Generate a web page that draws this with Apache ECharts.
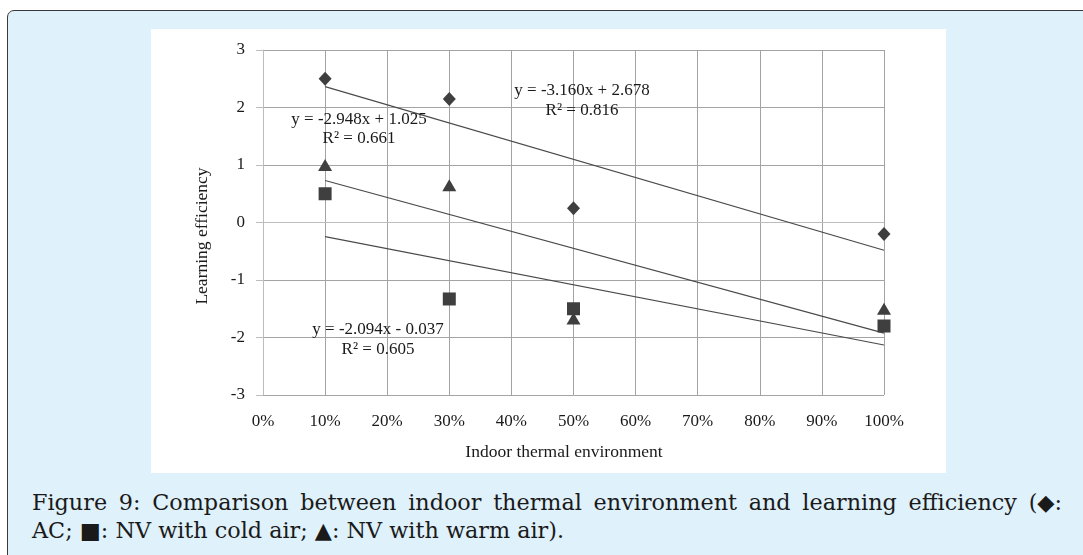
<!DOCTYPE html>
<html>
<head>
<meta charset="utf-8">
<script src="https://cdn.jsdelivr.net/npm/echarts@6/dist/echarts.min.js"></script>
<style>
  html, body { margin: 0; padding: 0; background: #ffffff; width: 1083px; height: 555px; overflow: hidden; }
  #frame { position: absolute; left: 7px; top: 10px; width: 1100px; height: 560px;
           background: #dff1fb; border: 1.5px solid #3a3a3a; border-top-left-radius: 7px; box-sizing: border-box; }
  #chart { position: absolute; left: 151px; top: 29px; width: 795px; height: 444px; background: #ffffff; }
  .cap { position: absolute; left: 32px; font-family: "DejaVu Serif", serif; font-size: 22.3px; color: #1a1a1a; white-space: nowrap; }
  #cap1 { top: 489px; width: 1030px; text-align: justify; text-align-last: justify; }
  #cap2 { top: 517px; }
  .nb { display: inline-block; }
</style>
</head>
<body>
<div id="frame"></div>
<div id="chart"></div>
<div class="cap" id="cap1">Figure 9: Comparison between indoor thermal environment and learning efficiency <span class="nb">(◆:</span></div>
<div class="cap" id="cap2">AC; ■: NV with cold air; ▲: NV with warm air).</div>
<script>
// ---- data ----
const xValues = [0.1, 0.3, 0.5, 1.0];
const acValues = [2.5, 2.15, 0.25, -0.2];        // diamonds
const coldValues = [0.5, -1.33, -1.5, -1.8];     // squares
const warmValues = [1.0, 0.65, -1.67, -1.5];     // triangles
const trendX = [0.1, 1.0];
const acTrend = [2.362, -0.482];
const warmTrend = [0.730, -1.923];
const coldTrend = [-0.246, -2.131];
const acEq = ['y = -3.160x + 2.678', 'R² = 0.816'];
const warmEq = ['y = -2.948x + 1.025', 'R² = 0.661'];
const coldEq = ['y = -2.094x - 0.037', 'R² = 0.605'];
const yTicks = [-3, -2, -1, 0, 1, 2, 3];
const xAxisName = 'Indoor thermal environment';
const yAxisName = 'Learning efficiency';

const pairs = (xs, ys) => xs.map((x, i) => [x, ys[i]]);
const FONT = '"Liberation Serif", "Times New Roman", serif';
const markColor = '#3f3f3f';
const lineColor = '#4a4a4a';

const chart = echarts.init(document.getElementById('chart'), null, { renderer: 'canvas' });

function scatter(name, symbol, size, ys) {
  return { name, type: 'scatter', symbol, symbolSize: size, data: pairs(xValues, ys),
           itemStyle: { color: markColor, opacity: 1 }, z: 5, silent: true };
}
function trend(ys) {
  return { type: 'line', data: pairs(trendX, ys), symbol: 'none',
           lineStyle: { color: lineColor, width: 1.2 }, z: 4, silent: true };
}
function eqText(lines, cx, cy1, cy2) {
  return [
    { type: 'text', x: cx, y: cy1, style: { text: lines[0], font: '17px ' + FONT, fill: '#1a1a1a', align: 'center', verticalAlign: 'middle' }, z: 10 },
    { type: 'text', x: cx, y: cy2, style: { text: lines[1], font: '17px ' + FONT, fill: '#1a1a1a', align: 'center', verticalAlign: 'middle' }, z: 10 }
  ];
}

chart.setOption({
  animation: false,
  backgroundColor: '#ffffff',
  grid: { left: 112, top: 21, right: 62, bottom: 78 },
  xAxis: {
    type: 'value', min: 0, max: 1, interval: 0.1,
    axisLine: { show: true, lineStyle: { color: '#bdbdbd', width: 1 } },
    axisTick: { show: false },
    axisLabel: { margin: 18, color: '#1a1a1a', fontFamily: FONT, fontSize: 17,
                 formatter: v => Math.round(v * 100) + '%' },
    splitLine: { show: true, lineStyle: { color: '#a3a3a3', width: 1 } }
  },
  yAxis: {
    type: 'value', min: yTicks[0], max: yTicks[yTicks.length - 1], interval: 1,
    axisLine: { show: true, lineStyle: { color: '#bdbdbd', width: 1 } },
    axisTick: { show: true, inside: false, length: 7, lineStyle: { color: '#bdbdbd' } },
    axisLabel: { margin: 18, color: '#1a1a1a', fontFamily: FONT, fontSize: 17 },
    splitLine: { show: true, lineStyle: { color: '#a3a3a3', width: 1 } }
  },
  graphic: [
    { type: 'text', x: 413, y: 423, style: { text: xAxisName, font: '17.5px ' + FONT, fill: '#1a1a1a', align: 'center', verticalAlign: 'middle' } },
    { type: 'text', x: 51, y: 207, rotation: Math.PI / 2, style: { text: yAxisName, font: '17.5px ' + FONT, fill: '#1a1a1a', align: 'center', verticalAlign: 'middle' } },
    ...eqText(acEq, 431, 62, 82),
    ...eqText(warmEq, 208, 91, 110),
    ...eqText(coldEq, 227, 301, 321)
  ],
  series: [
    trend(acTrend), trend(warmTrend), trend(coldTrend),
    scatter('AC', 'diamond', [13, 14], acValues),
    scatter('NV with cold air', 'rect', [13, 13], coldValues),
    scatter('NV with warm air', 'triangle', [14, 12], warmValues)
  ]
});
</script>
</body>
</html>
